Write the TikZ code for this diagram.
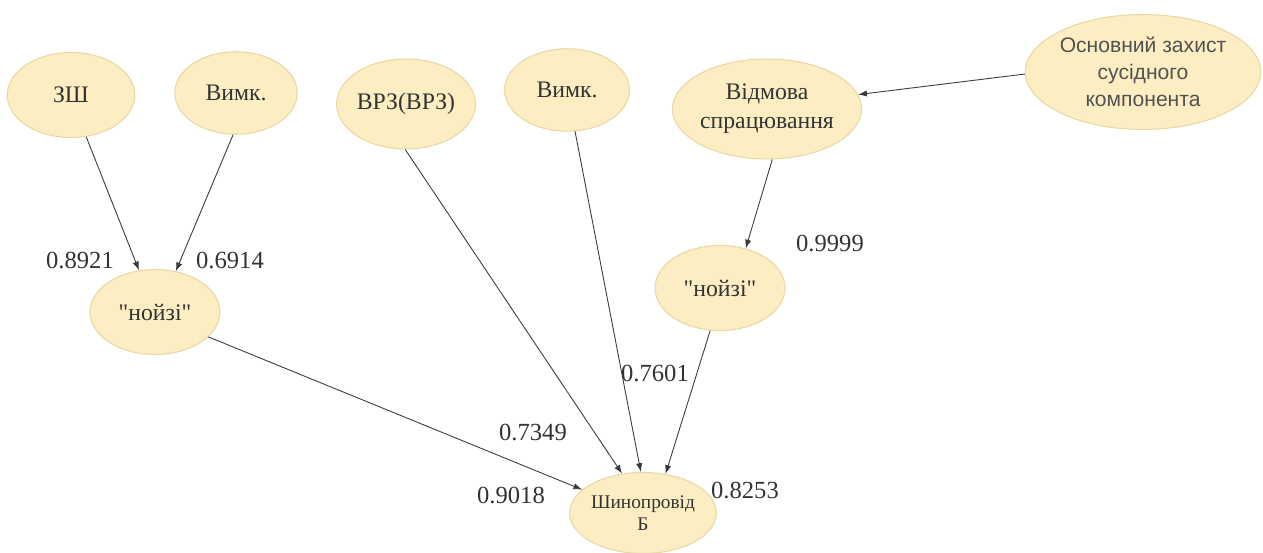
\documentclass[tikz,border=0pt]{standalone}
\usepackage{fontspec}
\setmainfont{Liberation Serif}
\newfontfamily\eventrm{Liberation Serif}
\newfontfamily\labelsans{Liberation Sans}
\usepackage{xcolor}
\usetikzlibrary{arrows.meta,shapes.geometric}
\definecolor{ink}{HTML}{333333}
\definecolor{edge}{HTML}{3A3A3A}
\definecolor{eventfill}{HTML}{FCEDC2}
\definecolor{eventline}{HTML}{E8D8A4}
\newcommand{\dq}{\symbol{34}}

\begin{document}
\begin{tikzpicture}[
  x=0.02cm,y=-0.02cm,
  >={Latex[length=5pt,width=3.6pt]},
  arrow/.style={->,line width=0.5pt,draw=edge},
  event/.style={ellipse,draw=eventline,fill=eventfill,line width=0.6pt,
                inner sep=0pt,align=center,text=ink,
                font=\eventrm\fontsize{13.5}{16.5}\selectfont},
  prob/.style={text=ink,font=\eventrm\fontsize{14}{16}\selectfont,inner sep=0pt}
]
\useasboundingbox (0,0) rectangle (1263,553);

% Top row: initiating events
\node[event,minimum width=2.55cm,minimum height=1.7cm] (zsh) at (71,95) {ЗШ};
\node[event,minimum width=2.45cm,minimum height=1.65cm] (vymkA) at (236,93) {Вимк.};
\node[event,minimum width=2.55cm,minimum height=1.8cm] (vrz) at (406,104) {ВРЗ(ВРЗ)};
\node[event,minimum width=2.5cm,minimum height=1.65cm] (vymkB) at (567,90) {Вимк.};
\node[event,minimum width=3.7cm,minimum height=2.0cm] (vidmova) at (767,109)
  {Відмова\\спрацювання};
\node[event,minimum width=4.45cm,minimum height=2.3cm,text=ink!85,
      font=\labelsans\fontsize{12}{15.5}\selectfont] (osnov) at (1143,72)
  {Основний захист\\сусідного\\компонента};

% Middle row
\node[event,minimum width=2.6cm,minimum height=1.7cm] (noyziL) at (155,312) {\dq нойзі\dq};
\node[event,minimum width=2.6cm,minimum height=1.7cm] (noyziR) at (720,288) {\dq нойзі\dq};

% Bottom: busbar
\node[event,minimum width=2.55cm,minimum height=1.62cm,
      font=\eventrm\fontsize{11}{12.5}\selectfont] (shyn) at (643,513) {Шинопровід\\Б};

% Probabilities
\node[prob] (pZsh) at (80,260) {0.8921};
\node[prob] (pVymkA) at (230,260) {0.6914};
\node[prob] (pVidmova) at (830,243) {0.9999};
\node[prob] (pVymkB) at (655,373) {0.7601};
\node[prob] (pVrz) at (533,432) {0.7349};
\node[prob] (pNoyziL) at (511,495) {0.9018};
\node[prob] (pNoyziR) at (745,490) {0.8253};

% Connections
\draw[arrow] (zsh.-70) -- (noyziL.111);
\draw[arrow] (vymkA.-94) -- (noyziL.63);
\draw[arrow] (noyziL.-25) -- (shyn.159);
\draw[arrow] (vrz.-91) -- (shyn.118);
\draw[arrow] (vymkB.-79) -- (shyn.93);
\draw[arrow] (vidmova.-84) -- (noyziR.57);
\draw[arrow] (noyziR.-103) -- (shyn.60);
\draw[arrow] (osnov.181) -- (vidmova.9);

\end{tikzpicture}
\end{document}
